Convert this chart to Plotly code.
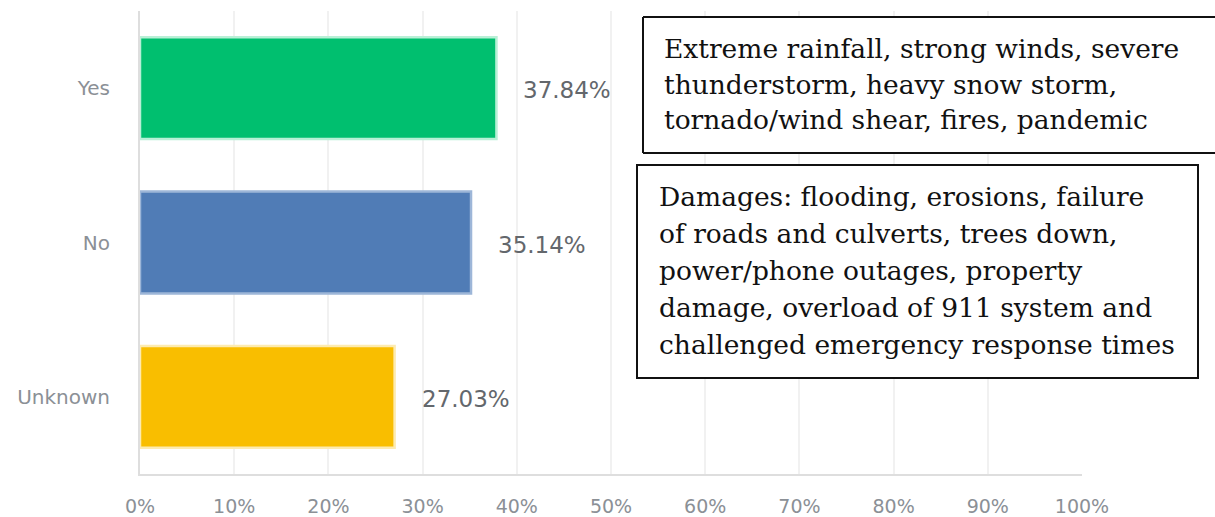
import plotly.graph_objects as go

categories = ["Yes", "No", "Unknown"]
values = [37.84, 35.14, 27.03]
value_labels = ["37.84%", "35.14%", "27.03%"]
colors = ["#00BF6F", "#507CB6", "#F9BE00"]
outline_colors = ["#B8F0D6", "#9DB6D8", "#FDEBB0"]
x_ticks = [0, 10, 20, 30, 40, 50, 60, 70, 80, 90, 100]
x_tick_labels = [f"{t}%" for t in x_ticks]

box1_lines = [
    "Extreme rainfall, strong winds, severe",
    "thunderstorm, heavy snow storm,",
    "tornado/wind shear, fires, pandemic",
]
box2_lines = [
    "Damages: flooding, erosions, failure",
    "of roads and culverts, trees down,",
    "power/phone outages, property",
    "damage, overload of 911 system and",
    "challenged emergency response times",
]

W, H = 1215, 517
L_PX, R_PX, T_PX, B_PX = 140, 1082, 11, 474  # plot area in pixels
ML, MT = L_PX, T_PX
MR, MB = W - R_PX, H - B_PX
PW = R_PX - L_PX
PH = B_PX - T_PX


def px_x(px):
    return (px - L_PX) / PW


def px_y(py):
    return (B_PX - py) / PH


fig = go.Figure()
fig.add_trace(go.Bar(
    y=categories,
    x=values,
    orientation="h",
    width=0.66,
    marker=dict(color=colors, line=dict(color=outline_colors, width=2.5)),
    hoverinfo="skip",
))

annotations = []
for c, v, lab in zip(categories, values, value_labels):
    annotations.append(dict(
        x=v, y=c, xref="x", yref="y", text=lab, showarrow=False,
        xanchor="left", yanchor="middle", xshift=25, yshift=-2,
        font=dict(family="DejaVu Sans", size=23, color="#63676c"),
    ))

serif = dict(family="DejaVu Serif", size=26.5, color="#111111")
box1_baselines = [57, 93, 128]
box2_baselines = [205, 242, 279, 316, 353]
for line, b in zip(box1_lines, box1_baselines):
    annotations.append(dict(
        x=px_x(662), y=px_y(b - 9), xref="paper", yref="paper", text=line,
        showarrow=False, xanchor="left", yanchor="middle", font=serif,
    ))
for line, b in zip(box2_lines, box2_baselines):
    annotations.append(dict(
        x=px_x(657), y=px_y(b - 9), xref="paper", yref="paper", text=line,
        showarrow=False, xanchor="left", yanchor="middle", font=serif,
    ))

# box 1 runs off the right edge of the picture: draw it open on that side
b1x0, b1x1, b1top, b1bot = px_x(643), px_x(1230), px_y(17), px_y(153)
edge = dict(color="#111111", width=2)
shapes = [
    dict(type="rect", xref="paper", yref="paper",
         x0=b1x0, x1=b1x1, y0=b1bot, y1=b1top,
         line=dict(color="rgba(0,0,0,0)", width=0), fillcolor="white", layer="above"),
    dict(type="line", xref="paper", yref="paper", x0=b1x0, x1=b1x1, y0=b1top, y1=b1top,
         line=edge, layer="above"),
    dict(type="line", xref="paper", yref="paper", x0=b1x0, x1=b1x1, y0=b1bot, y1=b1bot,
         line=edge, layer="above"),
    dict(type="line", xref="paper", yref="paper", x0=b1x0, x1=b1x0, y0=b1bot, y1=b1top,
         line=edge, layer="above"),
    dict(type="rect", xref="paper", yref="paper",
         x0=px_x(637), x1=px_x(1198), y0=px_y(378), y1=px_y(165),
         line=edge, fillcolor="white", layer="above"),
]

fig.update_layout(
    width=W, height=H,
    margin=dict(l=ML, r=MR, t=MT, b=MB),
    paper_bgcolor="white", plot_bgcolor="white",
    showlegend=False,
    annotations=annotations,
    shapes=shapes,
    xaxis=dict(
        range=[0, 100], tickvals=x_ticks, ticktext=x_tick_labels,
        showgrid=True, gridcolor="#f1f1f1", gridwidth=2,
        showline=True, linecolor="#dedede", linewidth=2,
        zeroline=False, ticks="", ticklabelstandoff=14, automargin=False,
        tickfont=dict(family="DejaVu Sans", size=19, color="#8b9096"),
        fixedrange=True,
    ),
    yaxis=dict(
        categoryorder="array", categoryarray=categories,
        range=[2.5, -0.5],
        showgrid=False, showline=True, linecolor="#dedede", linewidth=2,
        zeroline=False, ticks="", ticklabelstandoff=24, automargin=False,
        tickfont=dict(family="DejaVu Sans", size=20, color="#8b9096"),
        fixedrange=True,
    ),
)

fig.write_html(
    "out.html",
    config={"displayModeBar": False, "staticPlot": True},
    post_script="document.body.style.margin='0';document.body.style.overflow='hidden';",
)
